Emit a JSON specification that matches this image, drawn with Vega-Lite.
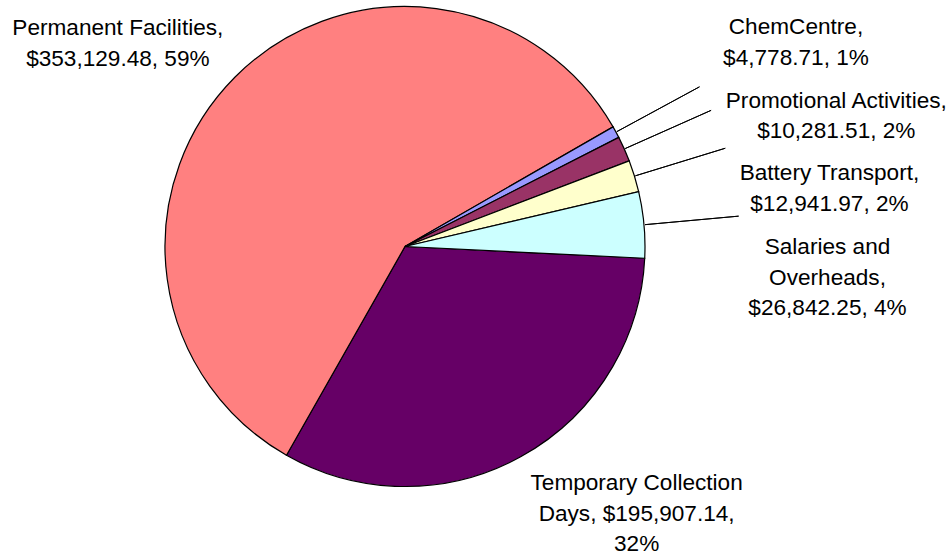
{
  "$schema": "https://vega.github.io/schema/vega-lite/v6.json",
  "width": 810,
  "height": 493,
  "autosize": {"type": "none"},
  "padding": {"left": 0, "top": 0, "right": 139, "bottom": 58},
  "background": "white",
  "view": {"stroke": null},
  "data": {
    "values": [
      {"category": "Temporary Collection Days", "value": 195907.14, "label": "Temporary Collection\nDays, $195,907.14,\n32%"},
      {"category": "Permanent Facilities", "value": 353129.48, "label": "Permanent Facilities,\n$353,129.48, 59%"},
      {"category": "ChemCentre", "value": 4778.71, "label": "ChemCentre,\n$4,778.71, 1%"},
      {"category": "Promotional Activities", "value": 10281.51, "label": "Promotional Activities,\n$10,281.51, 2%"},
      {"category": "Battery Transport", "value": 12941.97, "label": "Battery Transport,\n$12,941.97, 2%"},
      {"category": "Salaries and Overheads", "value": 26842.25, "label": "Salaries and\nOverheads,\n$26,842.25, 4%"}
    ]
  },
  "transform": [{"window": [{"op": "row_number", "as": "idx"}]}],
  "encoding": {
    "theta": {"field": "value", "type": "quantitative", "stack": true, "scale": {"range": [1.6197, 7.9029]}},
    "order": {"field": "idx", "type": "quantitative"}
  },
  "layer": [
    {
      "mark": {"type": "arc", "radius": 240, "stroke": "black", "strokeWidth": 1.2},
      "encoding": {
        "color": {
          "field": "category",
          "type": "nominal",
          "scale": {
            "domain": ["Temporary Collection Days", "Permanent Facilities", "ChemCentre", "Promotional Activities", "Battery Transport", "Salaries and Overheads"],
            "range": ["#660066", "#FF8080", "#9999FF", "#993366", "#FFFFCC", "#CCFFFF"]
          },
          "legend": null
        }
      }
    },
    {
      "mark": {"type": "arc", "radius": 335, "radius2": 241, "padAngle": 3.1416, "filled": false, "color": "black", "strokeWidth": 1},
      "encoding": {
        "strokeOpacity": {
          "condition": {"test": "datum.category === 'Permanent Facilities' || datum.category === 'Temporary Collection Days'", "value": 0},
          "value": 1
        }
      }
    },
    {
      "mark": {
        "type": "text",
        "radius": 240,
        "font": "Liberation Sans",
        "fontSize": 22.6,
        "lineBreak": "\n",
        "lineHeight": 30.5,
        "align": "center",
        "baseline": "middle",
        "color": "black",
        "dx": {"expr": "datum.category === 'Temporary Collection Days' ? 116 : datum.category === 'Permanent Facilities' ? -117 : datum.category === 'ChemCentre' ? 180 : datum.category === 'Promotional Activities' ? 212 : datum.category === 'Battery Transport' ? 195 : 183.5"},
        "dy": {"expr": "datum.category === 'Temporary Collection Days' ? 26.5 : datum.category === 'Permanent Facilities' ? -49 : datum.category === 'ChemCentre' ? -105 : datum.category === 'Promotional Activities' ? -48 : datum.category === 'Battery Transport' ? -3 : 22.5"}
      },
      "encoding": {
        "text": {"field": "label", "type": "nominal"}
      }
    }
  ]
}
